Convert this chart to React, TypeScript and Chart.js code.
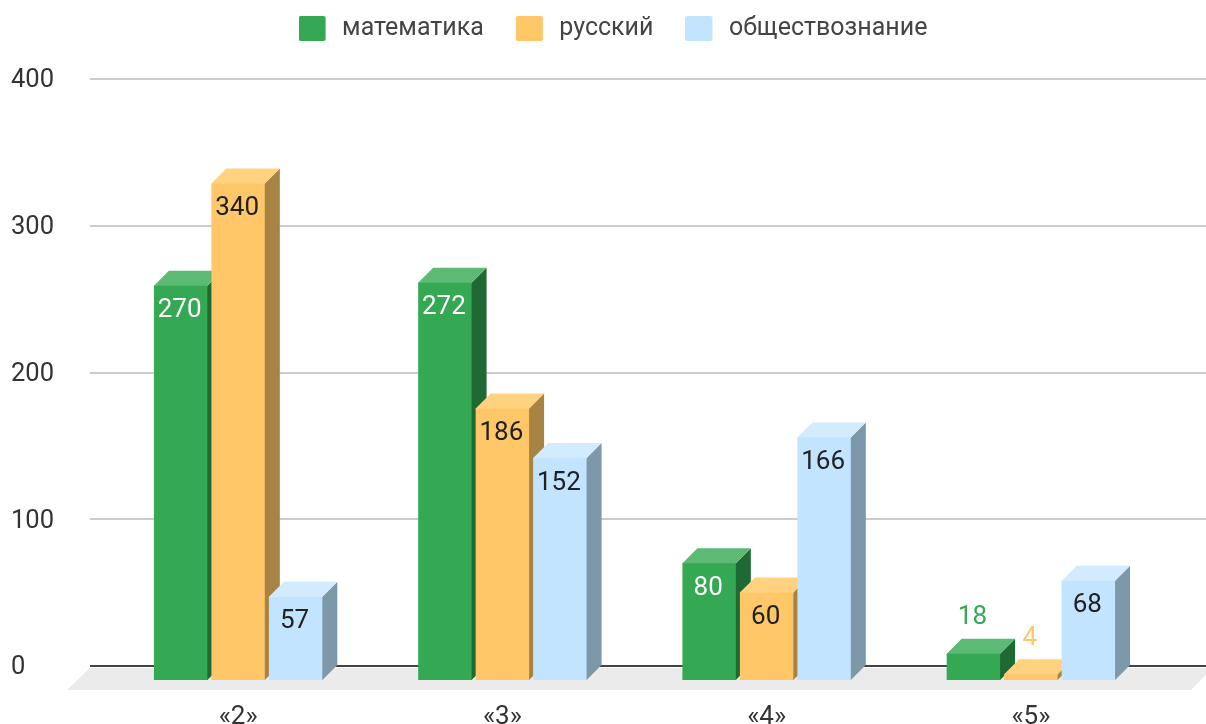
import React, { useEffect, useRef } from "react";
import { Chart, registerables } from "chart.js";

Chart.register(...registerables);

const categories = ["«2»", "«3»", "«4»", "«5»"];
const seriesNames = ["математика", "русский", "обществознание"];
const math = [270, 272, 80, 18];
const russian = [340, 186, 60, 4];
const social = [57, 152, 166, 68];
const seriesValues = [math, russian, social];
const faceColors = ["#34a853", "#ffc767", "#c2e4ff"];
const sideColors = ["#1f6a34", "#a88444", "#7d98a9"];
const topColors = ["#5cba75", "#ffd280", "#d3ebff"];
const insideLabelColors = ["#ffffff", "#212121", "#212121"];
const yTicks = [0, 100, 200, 300, 400];

const FONT = "Roboto";
const DEPTH = 15;
const DROP = 14;

const depth3d = {
  id: "depth3d",
  afterLayout(chart: any) {
    const legend = chart.legend;
    legend.left += 26;
    legend.right += 26;
    legend.top -= 28;
  },
  beforeDatasetsDraw(chart: any) {
    const { ctx, scales } = chart;
    const yAxis = scales.y;
    const W = chart.width;
    ctx.save();
    // floor
    const zero = yAxis.getPixelForValue(0);
    ctx.fillStyle = "#ebebeb";
    ctx.beginPath();
    ctx.moveTo(90, zero + 2);
    ctx.lineTo(W + 7, zero + 2);
    ctx.lineTo(1191, zero + 24);
    ctx.lineTo(67, zero + 24);
    ctx.closePath();
    ctx.fill();
    // grid
    yAxis.ticks.forEach((t: any) => {
      const y = Math.round(yAxis.getPixelForValue(t.value));
      ctx.fillStyle = t.value === 0 ? "#444444" : "#cccccc";
      ctx.fillRect(90, y - 1, W - 90, 2);
    });
    // sides and tops, left to right; each reaches 1px under its face to avoid seams
    const n = categories.length;
    for (let c = 0; c < n; c++) {
      seriesValues.forEach((_, s) => {
        const bar = chart.getDatasetMeta(s).data[c];
        const l = bar.x - bar.width / 2;
        const r = bar.x + bar.width / 2;
        const top = bar.y + DROP;
        const bot = bar.base + DROP;
        ctx.fillStyle = sideColors[s];
        ctx.beginPath();
        ctx.moveTo(r - 1, top);
        ctx.lineTo(r, top);
        ctx.lineTo(r + DEPTH, top - DEPTH);
        ctx.lineTo(r + DEPTH, bot - DEPTH);
        ctx.lineTo(r, bot);
        ctx.lineTo(r - 1, bot);
        ctx.closePath();
        ctx.fill();
        ctx.fillStyle = topColors[s];
        ctx.beginPath();
        ctx.moveTo(l, top + 1);
        ctx.lineTo(l, top);
        ctx.lineTo(l + DEPTH, top - DEPTH);
        ctx.lineTo(r + DEPTH, top - DEPTH);
        ctx.lineTo(r, top);
        ctx.lineTo(r, top + 1);
        ctx.closePath();
        ctx.fill();
      });
    }
    ctx.restore();
    ctx.save();
    ctx.translate(0, DROP);
  },
  afterDatasetsDraw(chart: any) {
    const { ctx } = chart;
    ctx.restore();
    ctx.save();
    ctx.font = `26px ${FONT}`;
    ctx.textAlign = "center";
    ctx.textBaseline = "middle";
    seriesValues.forEach((vals, s) => {
      const meta = chart.getDatasetMeta(s);
      vals.forEach((v, c) => {
        const bar = meta.data[c];
        const top = bar.y + DROP;
        const h = bar.base - bar.y;
        if (h < 40) {
          ctx.fillStyle = faceColors[s];
          ctx.fillText(String(v), bar.x - 1, top - DEPTH - 21);
        } else {
          ctx.fillStyle = insideLabelColors[s];
          ctx.fillText(String(v), bar.x - 1, top + 25);
        }
      });
    });
    ctx.restore();
  },
};

function legendSwatch(color: string) {
  const cv = document.createElement("canvas");
  cv.width = 31;
  cv.height = 25;
  const g = cv.getContext("2d")!;
  g.fillStyle = color;
  g.beginPath();
  (g as any).roundRect(0, 0, 27, 25, 2);
  g.fill();
  return cv;
}

export default function App() {
  const ref = useRef<HTMLCanvasElement>(null);
  useEffect(() => {
    const chart = new Chart(ref.current!, {
      type: "bar",
      data: {
        labels: categories,
        datasets: seriesValues.map((data, i) => ({
          label: seriesNames[i],
          data,
          yAxisID: "yBars",
          backgroundColor: faceColors[i],
          borderWidth: 0,
          clip: false as any,
          categoryPercentage: 0.6527,
          barPercentage: 0.929,
        })),
      },
      options: {
        animation: false,
        responsive: false,
        layout: { padding: { left: 11, right: 43, top: 12, bottom: 0 } },
        plugins: {
          tooltip: { enabled: false },
          legend: {
            position: "top",
            labels: {
              usePointStyle: true,
              pointStyleWidth: 31,
              padding: 32,
              color: "#444444",
              font: { family: FONT, size: 25 },
              generateLabels: (c: any) =>
                Chart.defaults.plugins.legend.labels
                  .generateLabels(c)
                  .map((it: any, i: number) => ({ ...it, pointStyle: legendSwatch(faceColors[i]) })),
            },
          },
        },
        scales: {
          x: {
            grid: { display: false },
            border: { display: false },
            afterFit: (s: any) => {
              s.height = 58;
            },
            ticks: {
              padding: 28,
              color: "#333333",
              maxRotation: 0,
              font: { family: FONT, size: 26 },
            },
          },
          y: {
            min: 0,
            max: 400,
            grid: { display: false },
            border: { display: false },
            afterFit: (s: any) => {
              s.width = 95;
            },
            afterBuildTicks: (s: any) => {
              s.ticks = yTicks.map((value) => ({ value }));
            },
            ticks: {
              crossAlign: "far",
              padding: 0,
              labelOffset: 2,
              color: "#333333",
              font: { family: FONT, size: 25.5 },
            },
          },
          yBars: { display: false, min: 0, max: 402 },
        },
      },
      plugins: [depth3d],
    } as any);
    return () => chart.destroy();
  }, []);
  return (
    <canvas
      ref={ref}
      width={1206}
      height={724}
      style={{ position: "fixed", left: 0, top: 0, width: 1206, height: 724, filter: "blur(0.4px)" }}
    />
  );
}
